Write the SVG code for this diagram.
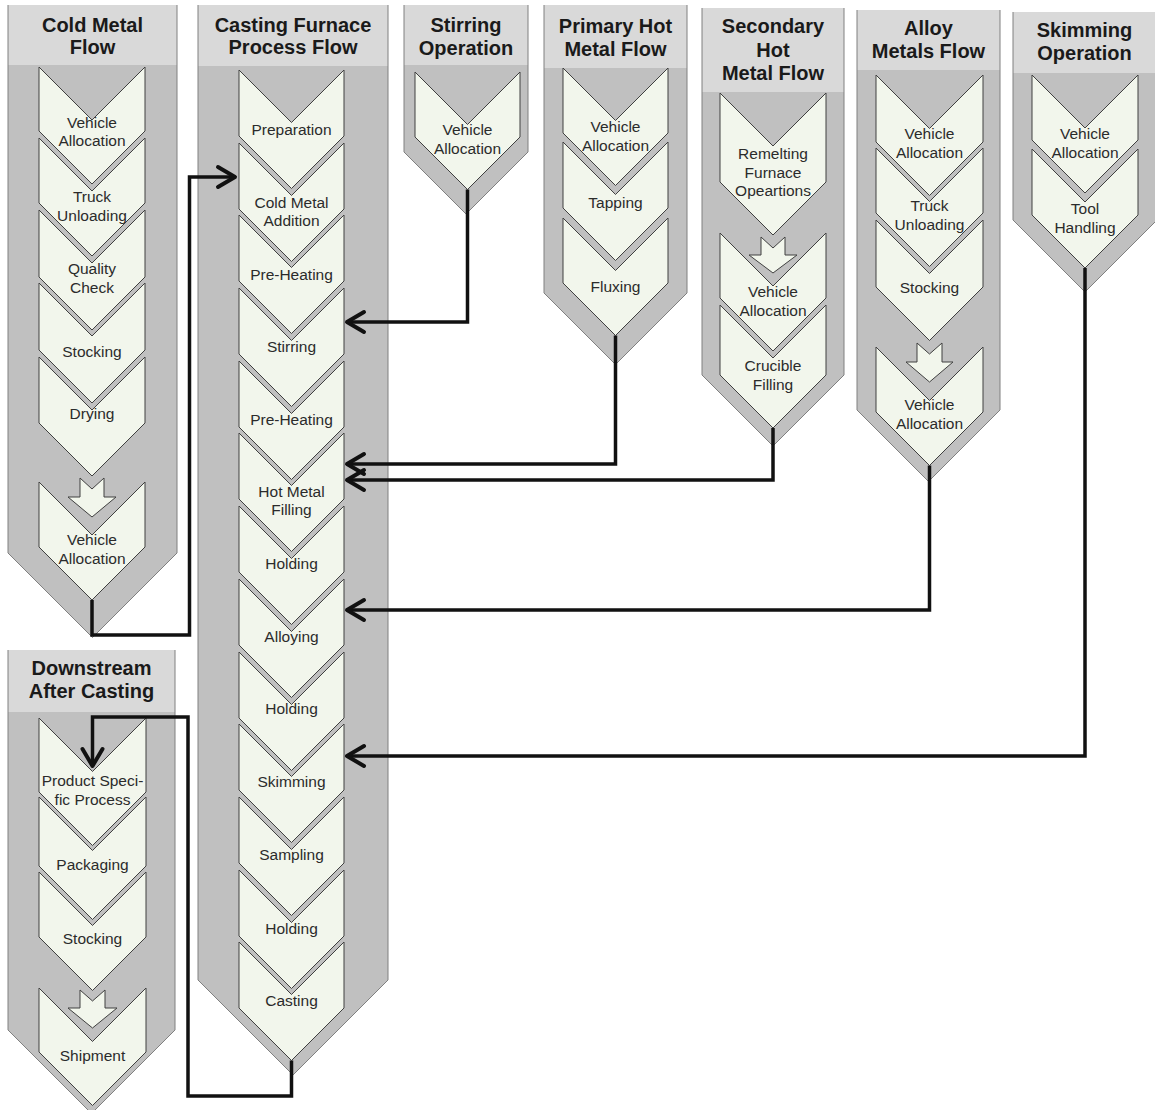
<svg xmlns="http://www.w3.org/2000/svg" width="1155" height="1110" viewBox="0 0 1155 1110">
  <style>
    .hdr{fill:#d9d9d9}
    .body{fill:#c0c0c0}
    .edge{fill:none;stroke:#808080;stroke-width:1}
    .chev{fill:#f2f6ec;stroke:#404040;stroke-width:1}
    .ttl{font-family:"Liberation Sans",Arial,sans-serif;font-weight:bold;font-size:20px;fill:#1a1a1a;text-anchor:middle}
    .lbl{font-family:"Liberation Sans",Arial,sans-serif;font-size:15.5px;fill:#2b2b2b;text-anchor:middle}
    .conn{fill:none;stroke:#111111;stroke-width:3.5;stroke-linejoin:miter}
  </style>
  <defs>
    <marker id="arr" markerUnits="userSpaceOnUse" viewBox="-20 -12 24 24" markerWidth="24" markerHeight="24" refX="0" refY="0" orient="auto" overflow="visible">
      <path d="M-17,-10 L0,0 L-17,10" fill="none" stroke="#111111" stroke-width="4" stroke-linejoin="round" stroke-linecap="round"/>
    </marker>
  </defs>

  <!-- Cold Metal Flow -->
  <g id="cold-metal-flow">
    <rect class="hdr" x="8" y="5" width="169" height="60"/>
    <polygon class="body" points="8,65 177,65 177,553 92.5,637.5 8,553"/>
    <polyline class="edge" points="8,5 8,553 92.5,637.5 177,553 177,5"/>
    <text class="ttl" x="92.5" y="31.5">Cold Metal</text>
    <text class="ttl" x="92.5" y="54">Flow</text>
    <polygon class="chev" points="39,67 92,120 145,67 145,131 92,184 39,131"/>
    <polygon class="chev" points="39,138 92,191 145,138 145,203 92,256 39,203"/>
    <polygon class="chev" points="39,210 92,263 145,210 145,277 92,330 39,277"/>
    <polygon class="chev" points="39,283 92,336 145,283 145,350 92,403 39,350"/>
    <polygon class="chev" points="39,357 92,410 145,357 145,423 92,476 39,423"/>
    <polygon class="chev" points="39,482 92,535 145,482 145,547 92,600 39,547"/>
    <polygon class="chev" points="80,478 92,489 104,478 104,497 116,497 92,517 68,497 80,497"/>
    <text class="lbl" x="92" y="128">Vehicle</text>
    <text class="lbl" x="92" y="146">Allocation</text>
    <text class="lbl" x="92" y="202">Truck</text>
    <text class="lbl" x="92" y="221">Unloading</text>
    <text class="lbl" x="92" y="274">Quality</text>
    <text class="lbl" x="92" y="293">Check</text>
    <text class="lbl" x="92" y="357">Stocking</text>
    <text class="lbl" x="92" y="419">Drying</text>
    <text class="lbl" x="92" y="545">Vehicle</text>
    <text class="lbl" x="92" y="564">Allocation</text>
  </g>

  <!-- Casting Furnace Process Flow -->
  <g id="casting-furnace">
    <rect class="hdr" x="198" y="5" width="190" height="61"/>
    <polygon class="body" points="198,66 388,66 388,980 293,1075 198,980"/>
    <polyline class="edge" points="198,5 198,980 293,1075 388,980 388,5"/>
    <text class="ttl" x="293" y="31.5">Casting Furnace</text>
    <text class="ttl" x="293" y="54">Process Flow</text>
    <polygon class="chev" points="239,70 291.5,122.5 344,70 344,136 291.5,188.5 239,136"/>
    <polygon class="chev" points="239,143 291.5,195.5 344,143 344,209 291.5,261.5 239,209"/>
    <polygon class="chev" points="239,215 291.5,267.5 344,215 344,281 291.5,333.5 239,281"/>
    <polygon class="chev" points="239,288 291.5,340.5 344,288 344,354 291.5,406.5 239,354"/>
    <polygon class="chev" points="239,361 291.5,413.5 344,361 344,427 291.5,479.5 239,427"/>
    <polygon class="chev" points="239,433 291.5,485.5 344,433 344,499 291.5,551.5 239,499"/>
    <polygon class="chev" points="239,506 291.5,558.5 344,506 344,572 291.5,624.5 239,572"/>
    <polygon class="chev" points="239,579 291.5,631.5 344,579 344,645 291.5,697.5 239,645"/>
    <polygon class="chev" points="239,652 291.5,704.5 344,652 344,718 291.5,770.5 239,718"/>
    <polygon class="chev" points="239,724 291.5,776.5 344,724 344,790 291.5,842.5 239,790"/>
    <polygon class="chev" points="239,797 291.5,849.5 344,797 344,863 291.5,915.5 239,863"/>
    <polygon class="chev" points="239,870 291.5,922.5 344,870 344,936 291.5,988.5 239,936"/>
    <polygon class="chev" points="239,942 291.5,994.5 344,942 344,1008 291.5,1060.5 239,1008"/>
    <text class="lbl" x="291.5" y="135">Preparation</text>
    <text class="lbl" x="291.5" y="208">Cold Metal</text>
    <text class="lbl" x="291.5" y="226">Addition</text>
    <text class="lbl" x="291.5" y="280">Pre-Heating</text>
    <text class="lbl" x="291.5" y="352">Stirring</text>
    <text class="lbl" x="291.5" y="425">Pre-Heating</text>
    <text class="lbl" x="291.5" y="497">Hot Metal</text>
    <text class="lbl" x="291.5" y="515">Filling</text>
    <text class="lbl" x="291.5" y="569">Holding</text>
    <text class="lbl" x="291.5" y="642">Alloying</text>
    <text class="lbl" x="291.5" y="714">Holding</text>
    <text class="lbl" x="291.5" y="787">Skimming</text>
    <text class="lbl" x="291.5" y="860">Sampling</text>
    <text class="lbl" x="291.5" y="934">Holding</text>
    <text class="lbl" x="291.5" y="1006">Casting</text>
  </g>

  <!-- Stirring Operation -->
  <g id="stirring-operation">
    <rect class="hdr" x="404" y="5" width="124" height="60"/>
    <polygon class="body" points="404,65 528,65 528,152 466,214 404,152"/>
    <polyline class="edge" points="404,5 404,152 466,214 528,152 528,5"/>
    <text class="ttl" x="466" y="32">Stirring</text>
    <text class="ttl" x="466" y="55">Operation</text>
    <polygon class="chev" points="415,72 467.5,124.5 520,72 520,137 467.5,189.5 415,137"/>
    <text class="lbl" x="467.5" y="135">Vehicle</text>
    <text class="lbl" x="467.5" y="154">Allocation</text>
  </g>

  <!-- Primary Hot Metal Flow -->
  <g id="primary-hot-metal">
    <rect class="hdr" x="544" y="5" width="143" height="63"/>
    <polygon class="body" points="544,68 687,68 687,293 615.5,364.5 544,293"/>
    <polyline class="edge" points="544,5 544,293 615.5,364.5 687,293 687,5"/>
    <text class="ttl" x="615.5" y="33">Primary Hot</text>
    <text class="ttl" x="615.5" y="55.5">Metal Flow</text>
    <polygon class="chev" points="563,68 615.5,120.5 668,68 668,133 615.5,185.5 563,133"/>
    <polygon class="chev" points="563,142 615.5,194.5 668,142 668,208 615.5,260.5 563,208"/>
    <polygon class="chev" points="563,218 615.5,270.5 668,218 668,283 615.5,335.5 563,283"/>
    <text class="lbl" x="615.5" y="132">Vehicle</text>
    <text class="lbl" x="615.5" y="151">Allocation</text>
    <text class="lbl" x="615.5" y="208">Tapping</text>
    <text class="lbl" x="615.5" y="292">Fluxing</text>
  </g>

  <!-- Secondary Hot Metal Flow -->
  <g id="secondary-hot-metal">
    <rect class="hdr" x="702" y="8" width="142" height="84"/>
    <polygon class="body" points="702,92 844,92 844,375 773,446 702,375"/>
    <polyline class="edge" points="702,8 702,375 773,446 844,375 844,8"/>
    <text class="ttl" x="773" y="33">Secondary</text>
    <text class="ttl" x="773" y="56.5">Hot</text>
    <text class="ttl" x="773" y="80">Metal Flow</text>
    <polygon class="chev" points="720,93 773,146 826,93 826,182 773,235 720,182"/>
    <polygon class="chev" points="720,233 773,286 826,233 826,298 773,351 720,298"/>
    <polygon class="chev" points="720,305 773,358 826,305 826,375 773,428 720,375"/>
    <polygon class="chev" points="761,237 773,248 785,237 785,255 797,255 773,273 749,255 761,255"/>
    <text class="lbl" x="773" y="159">Remelting</text>
    <text class="lbl" x="773" y="178">Furnace</text>
    <text class="lbl" x="773" y="196">Opeartions</text>
    <text class="lbl" x="773" y="297">Vehicle</text>
    <text class="lbl" x="773" y="316">Allocation</text>
    <text class="lbl" x="773" y="371">Crucible</text>
    <text class="lbl" x="773" y="390">Filling</text>
  </g>

  <!-- Alloy Metals Flow -->
  <g id="alloy-metals">
    <rect class="hdr" x="857" y="10" width="143" height="60"/>
    <polygon class="body" points="857,70 1000,70 1000,410 928.5,481.5 857,410"/>
    <polyline class="edge" points="857,10 857,410 928.5,481.5 1000,410 1000,10"/>
    <text class="ttl" x="928.5" y="35">Alloy</text>
    <text class="ttl" x="928.5" y="58">Metals Flow</text>
    <polygon class="chev" points="876,75 929.5,128.5 983,75 983,142 929.5,195.5 876,142"/>
    <polygon class="chev" points="876,148 929.5,201.5 983,148 983,213 929.5,266.5 876,213"/>
    <polygon class="chev" points="876,220 929.5,273.5 983,220 983,287 929.5,340.5 876,287"/>
    <polygon class="chev" points="876,347 929.5,400.5 983,347 983,412 929.5,465.5 876,412"/>
    <polygon class="chev" points="917,343 929.5,354 942,343 942,362 953,362 929.5,382 906,362 917,362"/>
    <text class="lbl" x="929.5" y="139">Vehicle</text>
    <text class="lbl" x="929.5" y="158">Allocation</text>
    <text class="lbl" x="929.5" y="211">Truck</text>
    <text class="lbl" x="929.5" y="230">Unloading</text>
    <text class="lbl" x="929.5" y="293">Stocking</text>
    <text class="lbl" x="929.5" y="410">Vehicle</text>
    <text class="lbl" x="929.5" y="429">Allocation</text>
  </g>

  <!-- Skimming Operation -->
  <g id="skimming-operation">
    <rect class="hdr" x="1013" y="12" width="144" height="61"/>
    <polygon class="body" points="1013,73 1157,73 1157,220 1085,292 1013,220"/>
    <polyline class="edge" points="1013,12 1013,220 1085,292 1157,220"/>
    <text class="ttl" x="1084.5" y="37">Skimming</text>
    <text class="ttl" x="1084.5" y="60">Operation</text>
    <polygon class="chev" points="1032,75 1085,128 1138,75 1138,140 1085,193 1032,140"/>
    <polygon class="chev" points="1032,149 1085,202 1138,149 1138,215 1085,268 1032,215"/>
    <text class="lbl" x="1085" y="139">Vehicle</text>
    <text class="lbl" x="1085" y="158">Allocation</text>
    <text class="lbl" x="1085" y="214">Tool</text>
    <text class="lbl" x="1085" y="233">Handling</text>
  </g>

  <!-- Downstream After Casting -->
  <g id="downstream">
    <rect class="hdr" x="8" y="650" width="167" height="62"/>
    <polygon class="body" points="8,712 175,712 175,1030 91.5,1113.5 8,1030"/>
    <polyline class="edge" points="8,650 8,1030 91.5,1113.5 175,1030 175,650"/>
    <text class="ttl" x="91.5" y="675">Downstream</text>
    <text class="ttl" x="91.5" y="698">After Casting</text>
    <polygon class="chev" points="39,718 92.5,771.5 146,718 146,792 92.5,845.5 39,792"/>
    <polygon class="chev" points="39,797 92.5,850.5 146,797 146,866 92.5,919.5 39,866"/>
    <polygon class="chev" points="39,872 92.5,925.5 146,872 146,937 92.5,990.5 39,937"/>
    <polygon class="chev" points="39,988 92.5,1041.5 146,988 146,1052 92.5,1105.5 39,1052"/>
    <polygon class="chev" points="80,990 92.5,1001 105,990 105,1008 117,1008 92.5,1028 68,1008 80,1008"/>
    <text class="lbl" x="92.5" y="786">Product Speci-</text>
    <text class="lbl" x="92.5" y="805">fic Process</text>
    <text class="lbl" x="92.5" y="870">Packaging</text>
    <text class="lbl" x="92.5" y="944">Stocking</text>
    <text class="lbl" x="92.5" y="1061">Shipment</text>
  </g>

  <!-- connectors -->
  <g id="connectors">
    <path class="conn" d="M92,600 V635 H189.5 V177 H235" marker-end="url(#arr)"/>
    <path class="conn" d="M467.5,189.5 V322 H347" marker-end="url(#arr)"/>
    <path class="conn" d="M615.5,335.5 V464 H347" marker-end="url(#arr)"/>
    <path class="conn" d="M773,428 V480 H347" marker-end="url(#arr)"/>
    <path class="conn" d="M929.5,465.5 V610 H347" marker-end="url(#arr)"/>
    <path class="conn" d="M1085,268 V756 H347" marker-end="url(#arr)"/>
    <path class="conn" d="M291.5,1060.5 V1096 H188 V717 H92.5 V766" marker-end="url(#arr)"/>
  </g>
</svg>
